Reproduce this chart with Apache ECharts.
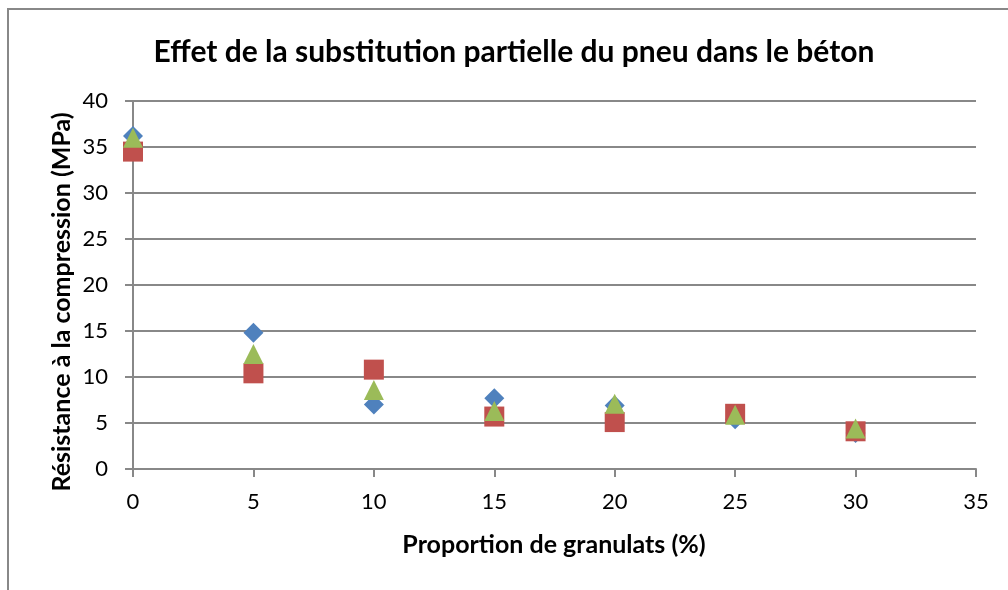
<!DOCTYPE html>
<html>
<head>
<meta charset="utf-8">
<script src="https://cdn.jsdelivr.net/npm/echarts@6/dist/echarts.min.js"></script>
<style>
  html, body { margin: 0; padding: 0; background: #fff; }
  #chart { width: 1008px; height: 590px; }
</style>
</head>
<body>
<div id="chart"></div>
<script>
// proportions de granulats (%)
const proportions = [0, 5, 10, 15, 20, 25, 30];
// résistance à la compression (MPa), une série par marqueur
const serieLosange = [36.2, 14.8, 7.0, 7.7, 6.9, 5.4, 3.9];
const serieCarre = [34.5, 10.4, 10.8, 5.7, 5.1, 6.0, 4.1];
const serieTriangle = [36.0, 12.5, 8.6, 6.3, 7.1, 5.9, 4.4];

const FONT = "Lato";

const chart = echarts.init(document.getElementById("chart"));

function pts(vals) {
  return proportions.map((x, i) => [x, vals[i]]);
}

chart.setOption({
  animation: false,
  backgroundColor: "#fff",
  textStyle: { fontFamily: FONT },
  graphic: [
    {
      type: "polyline",
      shape: { points: [[8, 600], [8, 9], [1020, 9]] },
      style: { stroke: "#888", lineWidth: 2, fill: null },
      silent: true
    },
    {
      type: "text",
      x: 514,
      y: 52,
      style: {
        text: "Effet de la substitution partielle du pneu dans le béton",
        font: "bold 30px " + FONT,
        fill: "#000",
        align: "center",
        verticalAlign: "middle"
      }
    },
    {
      type: "text",
      x: 554,
      y: 545,
      style: {
        text: "Proportion de granulats (%)",
        font: "bold 25px " + FONT,
        fill: "#000",
        align: "center",
        verticalAlign: "middle"
      }
    },
    {
      type: "text",
      x: 62,
      y: 302,
      rotation: Math.PI / 2,
      style: {
        text: "Résistance à la compression (MPa)",
        font: "bold 25px " + FONT,
        fill: "#000",
        align: "center",
        verticalAlign: "middle"
      }
    }
  ],
  grid: { left: 133, top: 101, right: 32, bottom: 121 },
  xAxis: {
    type: "value",
    min: 0,
    max: 35,
    interval: 5,
    axisLine: { show: true, lineStyle: { color: "#888", width: 2 } },
    axisTick: { show: true, length: 8, lineStyle: { color: "#888", width: 2 } },
    axisLabel: { color: "#000", fontSize: 22, margin: 22, fontFamily: FONT },
    splitLine: { show: false }
  },
  yAxis: {
    type: "value",
    min: 0,
    max: 40,
    interval: 5,
    axisLine: { show: true, lineStyle: { color: "#888", width: 2 } },
    axisTick: { show: true, length: 8, lineStyle: { color: "#888", width: 2 } },
    axisLabel: { color: "#000", fontSize: 22, margin: 25, fontFamily: FONT },
    splitLine: { show: true, lineStyle: { color: "#888", width: 2 } }
  },
  series: [
    {
      type: "scatter",
      symbol: "diamond",
      symbolSize: 20,
      itemStyle: { color: "#4F81BD", opacity: 1 },
      data: pts(serieLosange),
      z: 2
    },
    {
      type: "scatter",
      symbol: "rect",
      symbolSize: 20,
      itemStyle: { color: "#C0504D", opacity: 1 },
      data: pts(serieCarre),
      z: 3
    },
    {
      type: "scatter",
      symbol: "triangle",
      symbolSize: 20,
      itemStyle: { color: "#9BBB59", opacity: 1 },
      data: pts(serieTriangle),
      z: 4
    }
  ]
});
</script>
</body>
</html>
